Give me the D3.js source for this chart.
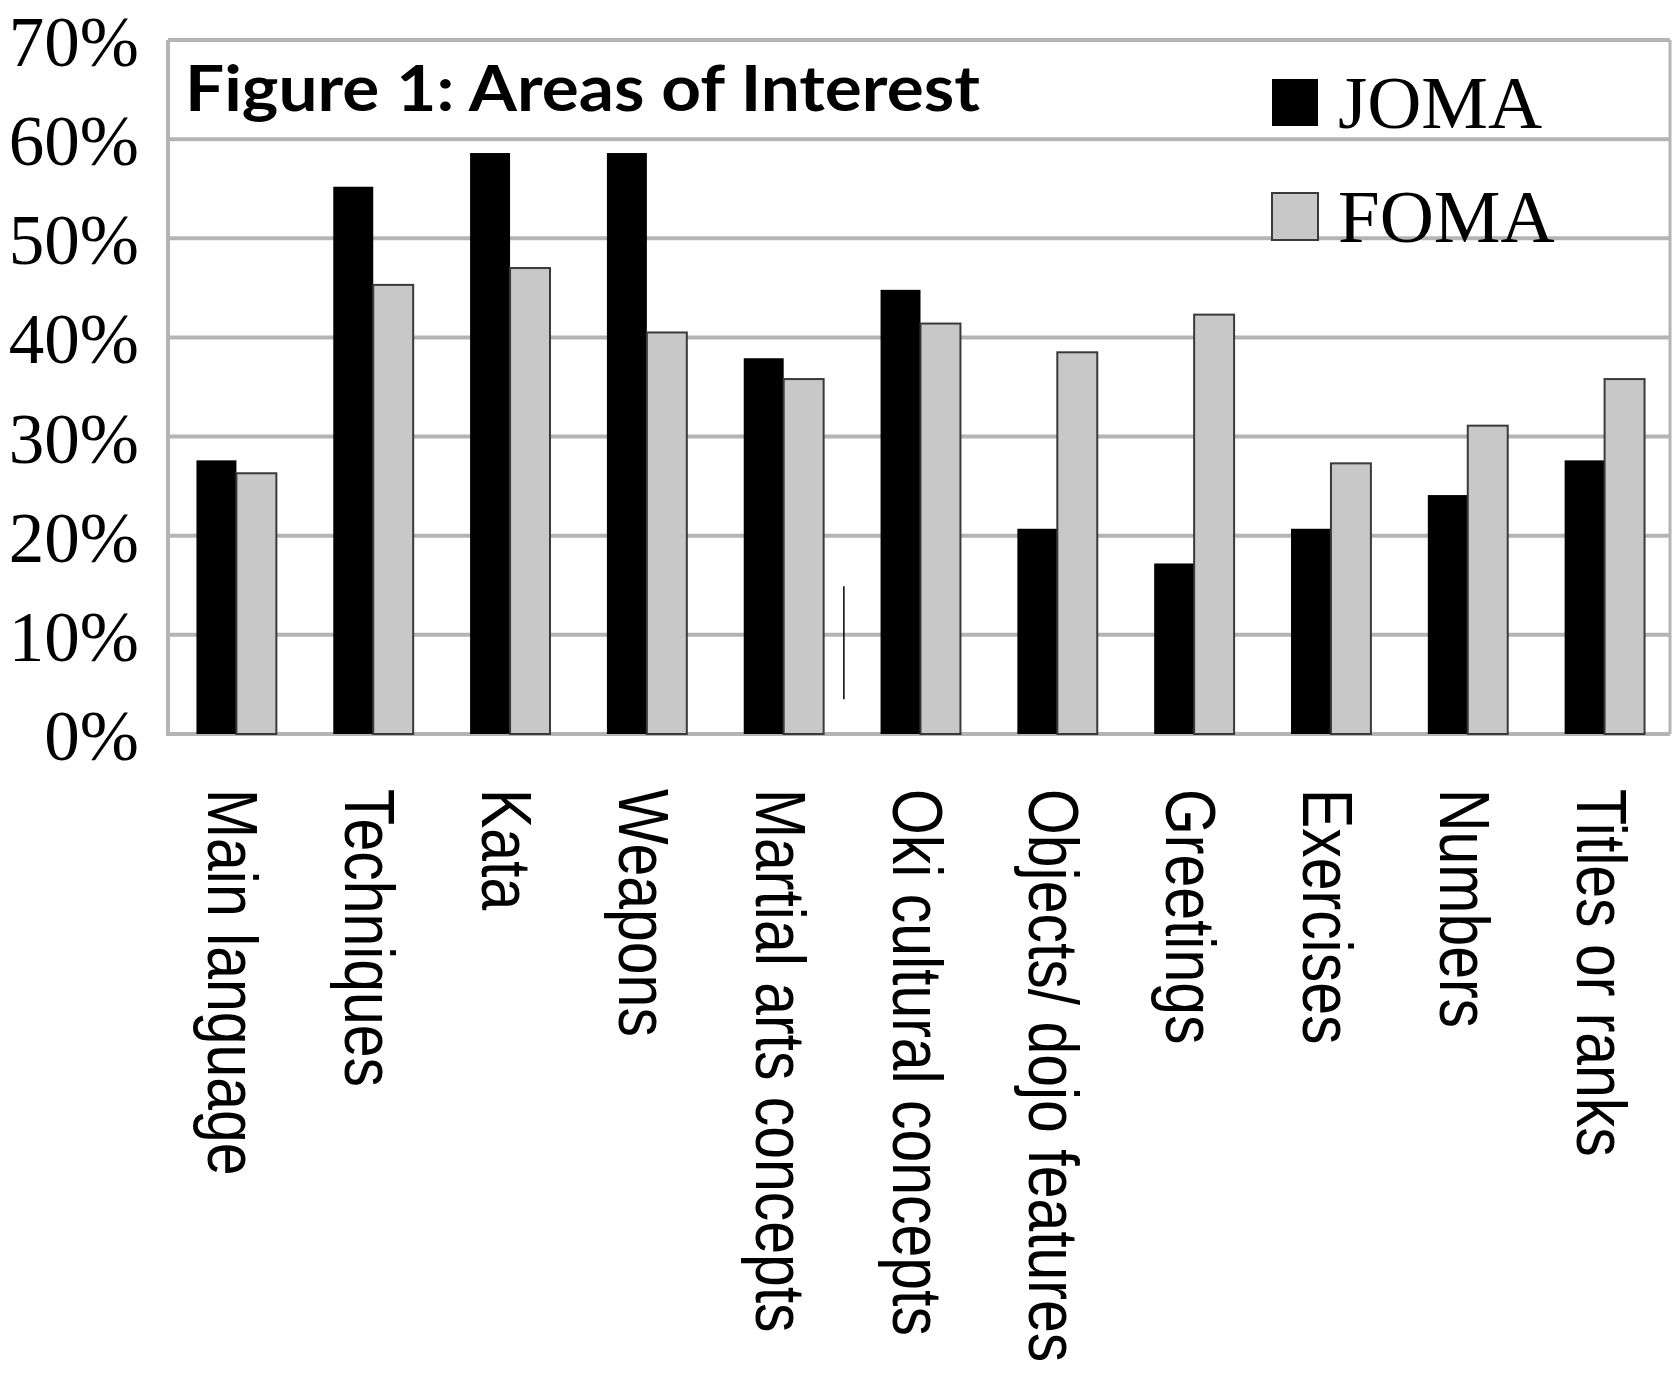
<!DOCTYPE html>
<html>
<head>
<meta charset="utf-8">
<script src="https://cdn.jsdelivr.net/npm/d3@7"></script>
<style>
  body { margin: 0; background: #fff; }
</style>
</head>
<body>
<div id="chart"></div>
<script>
// data (percent of respondents)
var categories = ["Main language", "Techniques", "Kata", "Weapons", "Martial arts concepts",
    "Oki cultural concepts", "Objects/ dojo features", "Greetings", "Exercises", "Numbers", "Titles or ranks"];
var joma = [27.6, 55.2, 58.6, 58.6, 37.9, 44.8, 20.7, 17.2, 20.7, 24.1, 27.6];
var foma = [26.3, 45.3, 47.0, 40.5, 35.8, 41.4, 38.5, 42.3, 27.3, 31.1, 35.8];
var series = ["JOMA", "FOMA"];
var yTicks = [0, 10, 20, 30, 40, 50, 60, 70];

var width = 1673, height = 1373;
var plot = {left: 168, right: 1670, top: 40, bottom: 734};

var svg = d3.select("#chart").append("svg")
    .attr("width", width)
    .attr("height", height);

var x = d3.scaleBand()
    .domain(categories)
    .range([plot.left, 1673]);

var y = d3.scaleLinear()
    .domain([0, 70])
    .range([plot.bottom, plot.top]);

var barW = x.bandwidth() * 0.292;

// grid lines
svg.append("g")
    .selectAll("line")
    .data(yTicks)
    .enter().append("line")
    .attr("x1", plot.left)
    .attr("x2", plot.right)
    .attr("y1", function (d) { return y(d); })
    .attr("y2", function (d) { return y(d); })
    .attr("stroke", "#b4b4b4")
    .attr("stroke-width", 4);

// left axis and right border
svg.append("line")
    .attr("x1", plot.left).attr("x2", plot.left)
    .attr("y1", y(70)).attr("y2", y(0) + 2)
    .attr("stroke", "#b4b4b4").attr("stroke-width", 4);
svg.append("line")
    .attr("x1", plot.right).attr("x2", plot.right)
    .attr("y1", y(70)).attr("y2", y(0))
    .attr("stroke", "#b4b4b4").attr("stroke-width", 3);

// y tick labels
svg.append("g")
    .selectAll("text")
    .data(yTicks)
    .enter().append("text")
    .attr("x", 139)
    .attr("y", function (d) { return y(d) + 26; })
    .attr("text-anchor", "end")
    .style("font-family", "'Liberation Serif', 'DejaVu Serif', serif")
    .style("font-size", "71px")
    .text(function (d) { return d + "%"; });

// bars
var groups = svg.append("g")
    .selectAll("g")
    .data(categories)
    .enter().append("g")
    .attr("transform", function (d) {
        return "translate(" + (x(d) + x.bandwidth() / 2) + ",0)";
    });

groups.append("rect")
    .attr("x", -barW)
    .attr("width", barW)
    .attr("y", function (d, i) { return y(joma[i]); })
    .attr("height", function (d, i) { return y(0) - y(joma[i]); })
    .attr("fill", "#000");

groups.append("rect")
    .attr("x", 0)
    .attr("width", barW)
    .attr("y", function (d, i) { return y(foma[i]); })
    .attr("height", function (d, i) { return y(0) - y(foma[i]); })
    .attr("fill", "#c8c8c8")
    .attr("stroke", "#3a3a3a")
    .attr("stroke-width", 2);

// stray tick mark seen between the martial arts and oki groups
svg.append("line")
    .attr("x1", x("Martial arts concepts") + x.bandwidth() * 0.94)
    .attr("x2", x("Martial arts concepts") + x.bandwidth() * 0.94)
    .attr("y1", y(14.9))
    .attr("y2", y(3.5))
    .attr("stroke", "#000")
    .attr("stroke-width", 1.5);

// category labels, rotated to read downwards
svg.append("g")
    .selectAll("text")
    .data(categories)
    .enter().append("text")
    .attr("transform", function (d) {
        return "translate(" + (x(d) + x.bandwidth() / 2 - 28) + ",789) rotate(90) scale(0.83,1)";
    })
    .attr("x", 0)
    .attr("y", 0)
    .style("font-family", "'Liberation Sans', Arial, sans-serif")
    .style("font-size", "71px")
    .text(function (d) { return d; });

// title
svg.append("text")
    .attr("x", 185)
    .attr("y", 111)
    .attr("textLength", 795)
    .attr("lengthAdjust", "spacingAndGlyphs")
    .style("font-family", "Lato, 'Open Sans', sans-serif")
    .style("font-weight", "bold")
    .style("font-size", "64px")
    .text("Figure 1: Areas of Interest");

// legend
var legendY = [102, 216];
var legend = svg.append("g")
    .selectAll("g")
    .data(series)
    .enter().append("g")
    .attr("transform", function (d, i) { return "translate(1272," + legendY[i] + ")"; });

legend.append("rect")
    .attr("x", 0)
    .attr("y", -23)
    .attr("width", 46)
    .attr("height", 47)
    .attr("fill", function (d, i) { return i === 0 ? "#000" : "#c8c8c8"; })
    .attr("stroke", function (d, i) { return i === 0 ? "none" : "#3a3a3a"; })
    .attr("stroke-width", 2);

legend.append("text")
    .attr("x", 66)
    .attr("y", 26)
    .style("font-family", "'Liberation Serif', 'DejaVu Serif', serif")
    .style("font-size", "75px")
    .text(function (d) { return d; });
</script>
</body>
</html>
